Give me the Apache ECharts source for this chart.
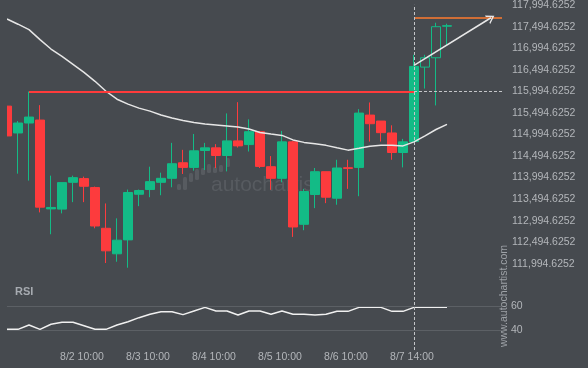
<!DOCTYPE html>
<html>
<head>
<meta charset="utf-8">
<script src="https://cdn.jsdelivr.net/npm/echarts@6/dist/echarts.min.js"></script>
<style>
html,body{margin:0;padding:0;background:#464a4f;}
#c{width:588px;height:368px;}
</style>
</head>
<body>
<div id="c"></div>
<script>
// ---- data ----
const categories = [
  '8/1 06:00','8/1 10:00','8/1 14:00','8/1 18:00','8/1 22:00','8/2 02:00','8/2 06:00','8/2 10:00',
  '8/2 14:00','8/2 18:00','8/2 22:00','8/3 02:00','8/3 06:00','8/3 10:00','8/3 14:00','8/3 18:00',
  '8/3 22:00','8/4 02:00','8/4 06:00','8/4 10:00','8/4 14:00','8/4 18:00','8/4 22:00','8/5 02:00',
  '8/5 06:00','8/5 10:00','8/5 14:00','8/5 18:00','8/5 22:00','8/6 02:00','8/6 06:00','8/6 10:00',
  '8/6 14:00','8/6 18:00','8/6 22:00','8/7 02:00','8/7 10:00','8/7 14:00','8/7 18:00','8/7 22:00',
  '8/8 02:00','8/8 06:00','8/8 10:00','8/8 14:00','8/8 18:00','8/8 22:00'
];
const shownLabels = ['8/2 10:00','8/3 10:00','8/4 10:00','8/5 10:00','8/6 10:00','8/7 14:00'];
// [open, close, low, high]
const candles = [
  [115656,114963,114963,115656],
  [115032,115263,114086,115309],
  [115263,115402,113925,115995],
  [115332,113308,113186,115679],
  [113267,113301,112678,114040],
  [113262,113878,113163,113878],
  [113885,113994,113424,114040],
  [113971,113793,113424,114017],
  [113763,112870,112817,113786],
  [112817,112293,112009,113394],
  [112224,112540,112039,113048],
  [112547,113648,111900,113717],
  [113608,113694,113331,113717],
  [113717,113901,113539,114248],
  [113885,113978,113585,114109],
  [113978,114317,113770,114802],
  [114340,114232,114079,114640],
  [114232,114617,114155,115009],
  [114624,114686,114172,114802],
  [114686,114508,114218,114772],
  [114508,114848,114139,115487],
  [114848,114732,114693,115748],
  [114762,115062,114601,115349],
  [115062,114255,114218,115062],
  [114248,113978,113710,114495],
  [113978,114825,113885,115079],
  [114825,112847,112616,114848],
  [112909,113671,112771,113733],
  [113602,114132,113285,114218],
  [114132,113539,113401,114132],
  [113516,114218,113364,114409],
  [114225,114208,113733,114409],
  [114232,115494,113562,115586],
  [115448,115247,114832,115741],
  [115309,115039,114832,115309],
  [115032,114578,114409,115210],
  [114578,114825,114232,114894],
  [114832,116579,114832,116849],
  [116563,116780,116064,116849],
  [116780,117502,115672,117594],
  [117514,117525,117080,117571]
];
const hollowCandles = [38, 39];
const movingAvg = [
  117680,117560,117433,117202,116983,116810,116625,116440,116233,116002,
  115817,115702,115609,115540,115448,115379,115321,115275,115240,115217,
  115194,115171,115125,115044,115009,114975,114871,114813,114779,114744,
  114686,114633,114675,114721,114744,114744,114732,114825,114963,115113,115233
];
const rsiValues = [
  40.8,40.8,44.4,40.8,45.0,46.6,46.6,43.7,40.8,40.8,
  44.4,47.1,50.4,53.2,55.3,55.3,52.9,55.9,58.9,55.9,
  55.9,52.6,55.9,55.9,53.2,55.9,53.2,53.2,52.6,53.2,
  55.6,55.6,58.9,58.9,58.9,55.6,55.6,58.9,58.9,58.9,58.9
];
const priceTicks = [111994.6252,112494.6252,112994.6252,113494.6252,113994.6252,114494.6252,
  114994.6252,115494.6252,115994.6252,116494.6252,116994.6252,117494.6252,117994.6252];
const rsiTicks = [40, 60];
const resistanceLevel = 115994.6252;
const targetLevel = 117710;
const arrowStartValue = 116602;
const levelStartIndex = 2;
const breakoutIndex = 37;
const arrowEndIndex = 44;
const lastIndex = 45;

// ---- chart ----
const BG = '#464a4f';
const UP = '#13bb86';
const DOWN = '#fd3b3d';
const chart = echarts.init(document.getElementById('c'), null, {renderer: 'canvas'});
const fmt = v => Number(v).toLocaleString('en-US', {minimumFractionDigits: 4, maximumFractionDigits: 4});
const chevron = 'path://M5,0 L10,10 L8.4,10 L5,3.2 L1.6,10 L0,10 Z';

const candleData = candles.map((c, i) => hollowCandles.includes(i)
  ? {value: c, itemStyle: {color: BG, color0: BG}}
  : c);

const option = {
  backgroundColor: BG,
  animation: false,
  textStyle: {fontFamily: 'Liberation Sans, Arial, sans-serif'},
  title: {text: 'RSI', left: 15, top: 286, padding: 0,
    textStyle: {color: '#a7abb1', fontSize: 11, fontWeight: 'bold', fontFamily: 'Liberation Sans'}},
  grid: [
    {left: 7, right: 86, top: 3, height: 267},
    {left: 7, right: 86, top: 270, height: 80}
  ],
  graphic: [
    {type: 'group', silent: true, z: 0, children: [
      {type: 'rect', shape: {x: 177, y: 184, width: 4, height: 6, r: 1.5}, style: {fill: '#575b60'}},
      {type: 'rect', shape: {x: 183, y: 177, width: 4, height: 13, r: 1.5}, style: {fill: '#575b60'}},
      {type: 'rect', shape: {x: 189, y: 173, width: 4, height: 9, r: 1.5}, style: {fill: '#575b60'}},
      {type: 'rect', shape: {x: 195, y: 169, width: 4, height: 11, r: 1.5}, style: {fill: '#575b60'}},
      {type: 'rect', shape: {x: 201, y: 168, width: 4, height: 7, r: 1.5}, style: {fill: '#575b60'}},
      {type: 'rect', shape: {x: 207, y: 164, width: 4, height: 9, r: 1.5}, style: {fill: '#575b60'}},
      {type: 'rect', shape: {x: 213, y: 167, width: 4, height: 6, r: 1.5}, style: {fill: '#575b60'}},
      {type: 'rect', shape: {x: 219, y: 165, width: 4, height: 7, r: 1.5}, style: {fill: '#575b60'}},
      {type: 'rect', shape: {x: 226, y: 158, width: 4, height: 9, r: 1.5}, style: {fill: '#575b60'}},
      {type: 'text', x: 211, y: 185, style: {text: 'autochartist', fill: '#575b60', fontSize: 21,
        fontFamily: 'Liberation Sans', textVerticalAlign: 'middle', letterSpacing: 1}}
    ]},
    // mask so the first, half-visible candle is cut at the plot edge
    {type: 'rect', z: 100, silent: true, shape: {x: 0, y: 0, width: 7, height: 270}, style: {fill: BG}},
    {type: 'text', x: 504, y: 296, rotation: Math.PI / 2, silent: true,
      style: {text: 'www.autochartist.com', fill: '#9ea2a7', fontSize: 10.5,
        fontFamily: 'Liberation Sans', textAlign: 'center', textVerticalAlign: 'middle'}}
  ],
  xAxis: [
    {type: 'category', gridIndex: 0, data: categories, boundaryGap: false, show: false},
    {type: 'category', gridIndex: 1, data: categories, boundaryGap: false,
      axisLine: {show: false}, axisTick: {show: false}, splitLine: {show: false},
      axisLabel: {interval: (i, v) => shownLabels.includes(v), color: '#b3b6ba', fontSize: 10.5,
        margin: 2, padding: [0, 4, 0, 0]}}
  ],
  yAxis: [
    {type: 'value', gridIndex: 0, position: 'right', min: 111847.1, max: 118009.5,
      splitLine: {show: false}, axisLine: {show: false}, axisTick: {show: false},
      axisLabel: {customValues: priceTicks, formatter: fmt, color: '#b3b6ba', fontSize: 10.5, margin: 10}},
    {type: 'value', gridIndex: 1, position: 'right', min: 23.79, max: 89.63,
      splitLine: {show: false}, axisLine: {show: false}, axisTick: {show: false},
      axisLabel: {customValues: rsiTicks, color: '#b3b6ba', fontSize: 10.5, margin: 9}}
  ],
  series: [
    {
      type: 'candlestick', xAxisIndex: 0, yAxisIndex: 0, data: candleData, barWidth: 9, z: 3,
      itemStyle: {color: UP, color0: DOWN, borderColor: UP, borderColor0: DOWN, borderWidth: 1},
      markLine: {
        silent: true, animation: false, label: {show: false}, symbol: ['none', 'none'],
        data: [
          [{coord: [levelStartIndex, resistanceLevel], lineStyle: {color: '#ff3b3b', width: 2, type: 'solid'}},
           {coord: [breakoutIndex, resistanceLevel]}],
          [{coord: [breakoutIndex, resistanceLevel], lineStyle: {color: '#c4c6c9', width: 1, type: [3, 2]}},
           {coord: [lastIndex, resistanceLevel]}],
          [{coord: [breakoutIndex, targetLevel], lineStyle: {color: '#ff7b2e', width: 1.5, type: 'solid'}},
           {coord: [lastIndex, targetLevel]}],
          {xAxis: breakoutIndex, lineStyle: {color: '#c4c6c9', width: 1, type: [3, 2]}},
          [{coord: [breakoutIndex, arrowStartValue], lineStyle: {color: '#e8e8e8', width: 1.5, type: 'solid'}},
           {coord: [arrowEndIndex, targetLevel], symbol: chevron, symbolSize: [10, 8]}]
        ]
      }
    },
    {
      type: 'line', xAxisIndex: 0, yAxisIndex: 0, data: movingAvg, symbol: 'none', z: 4,
      lineStyle: {color: '#e6e6e6', width: 1.5}, silent: true
    },
    {
      type: 'line', xAxisIndex: 1, yAxisIndex: 1, data: rsiValues, symbol: 'none', z: 4,
      lineStyle: {color: '#f0f0f0', width: 1.5}, silent: true,
      markLine: {
        silent: true, animation: false, label: {show: false}, symbol: ['none', 'none'],
        data: [
          {yAxis: 60, lineStyle: {color: '#5c6065', width: 1, type: 'solid'}},
          {yAxis: 40, lineStyle: {color: '#5c6065', width: 1, type: 'solid'}},
          {xAxis: breakoutIndex, lineStyle: {color: '#c4c6c9', width: 1, type: [3, 2]}}
        ]
      }
    }
  ]
};
chart.setOption(option);
</script>
</body>
</html>
